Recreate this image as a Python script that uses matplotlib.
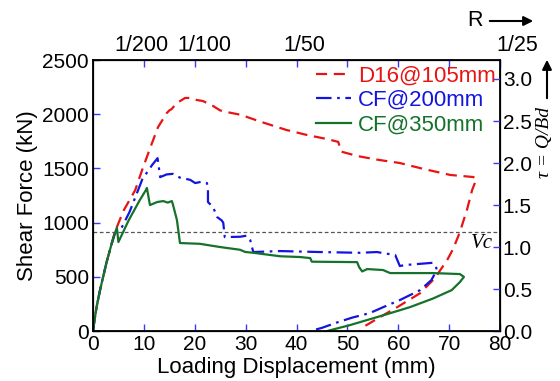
import numpy as np
import matplotlib.pyplot as plt
from matplotlib.transforms import ScaledTranslation

plt.rcParams['font.family'] = ['Liberation Sans', 'DejaVu Sans']

# D16@105mm
d_red = [0, 0.3, 0.7, 1.4, 2, 2.7, 3.7, 4.3, 6, 8.3, 9.8, 11.6, 12.8, 14.5, 15.1, 15.4,
         16.5, 18.1, 19.1, 20.4, 21.6, 23.6, 25, 26.3, 29, 33, 38, 42.1, 46, 48.2, 48.5,
         48.8, 52, 56, 60.3, 65, 70.2, 74.7, 75.3, 75.0, 74.5, 73.5, 72.1, 70.8, 69.6,
         67.2, 64.3, 59.8, 56.4, 53.1, 52.5]
f_red = [0, 100, 220, 380, 500, 640, 810, 913, 1110, 1300, 1504, 1734, 1882, 2011, 2039, 2045,
         2103, 2150, 2150, 2131, 2122, 2076, 2035, 2020, 1995, 1930, 1855, 1808, 1771, 1745, 1700,
         1655, 1614, 1580, 1550, 1495, 1440, 1421, 1410, 1360, 1300, 1120, 913, 760, 655,
         489, 350, 221, 129, 37, 0]

# CF@200mm
d_blue = [0, 0.3, 0.7, 1.4, 2, 2.7, 3.7, 4.3, 5.7, 7.2, 9.7, 11.6, 12.7, 13.2, 14.5, 15.7,
          17.1, 19.1, 20.1, 21.4, 22.4, 22.6, 22.6, 23.6, 24.4, 25.3, 25.6, 25.9, 28.9, 30.2,
          30.9, 31.5, 36.8, 44.6, 52.5, 55.8, 59.4, 60.3, 61.3, 66.8, 67.5, 67.3, 66.5, 64.3,
          60.3, 57, 54.4, 51, 48, 45, 42.7]
f_blue = [0, 100, 220, 380, 500, 640, 810, 900, 960, 1100, 1400, 1530, 1595, 1420, 1445, 1450,
          1415, 1395, 1365, 1378, 1365, 1300, 1190, 1144, 1052, 1020, 1000, 867, 870, 880,
          840, 729, 738, 729, 722, 729, 701, 600, 609, 630, 580, 540, 470, 378,
          286, 220, 166, 125, 80, 30, 0]

# CF@350mm
d_green = [0, 0.3, 0.7, 1.4, 2, 2.7, 3.7, 4.3, 4.7, 5.0, 7, 9.2, 10.4, 10.6, 11.2, 12.6, 13.8,
           14.7, 15.5, 15.7, 16.5, 17.1, 21, 25, 28.9, 29.9, 31.5, 36.8, 40.7, 42.7, 43, 51.9,
           52.3, 52.9, 53.9, 57, 58.4, 66.8, 72.1, 72.9, 72.1, 70.5, 66.8, 62.3, 57, 53,
           50.5, 48, 46]
f_green = [0, 100, 220, 380, 500, 640, 810, 900, 955, 821, 1020, 1208, 1300, 1320, 1162, 1190, 1199,
           1185, 1199, 1170, 1024, 812, 805, 775, 750, 730, 722, 690, 683, 673, 640, 636,
           590, 550, 572, 563, 535, 535, 526, 500, 452, 378, 300, 221, 145, 90,
           55, 25, 0]

vc = 913
tau_ratio = 775  # kN per unit of Q/Bd
r_ticks = [10, 20, 30, 40, 50, 60, 70, 80]
r_labels = ['1/200', '1/100', '', '1/50', '', '', '', '1/25']

tick_c = '#3a3aff'
red = '#e81414'
blue = '#1414e0'
green = '#15722a'

fig = plt.figure(figsize=(5.6, 3.81), dpi=100)
ax = fig.add_axes([0.166, 0.131, 0.727, 0.7115])

ax.plot(d_red, f_red, color=red, lw=1.6, dashes=(5, 3), label='D16@105mm')
ax.plot(d_blue, f_blue, color=blue, lw=1.6, dashes=(7, 2.5, 1.2, 2.5), label='CF@200mm')
ax.plot(d_green, f_green, color=green, lw=1.6, label='CF@350mm')
ax.axhline(vc, color='#555555', lw=0.9, dashes=(3, 2))
ax.text(78.6, 812, 'Vc', ha='right', va='center', fontsize=15,
        family='Liberation Serif', style='italic')

ax.set_xlim(0, 80)
ax.set_ylim(0, 2500)
ax.set_xticks(np.arange(0, 81, 10))
ax.set_yticks(np.arange(0, 2501, 500))
ax.tick_params(direction='in', length=5, width=1, color=tick_c, labelsize=15, pad=3)
ax.set_xlabel('Loading Displacement (mm)', fontsize=16, labelpad=2)
ax.set_ylabel('Shear Force (kN)', fontsize=16, labelpad=3)
for s in ax.spines.values():
    s.set_linewidth(1.3)

leg = ax.legend(loc='upper right', bbox_to_anchor=(1.0, 0.995), frameon=False, fontsize=16,
                handlelength=1.6, handletextpad=0.3, labelspacing=0.15, borderaxespad=0.1,
                borderpad=0.1)
for t, c in zip(leg.get_texts(), [red, blue, green]):
    t.set_color(c)

# right axis: tau = Q/Bd
ax2 = ax.twinx()
ax2.set_ylim(0, 2500 / tau_ratio)
ax2.set_yticks(np.arange(0, 3.01, 0.5))
ax2.set_yticklabels(['%.1f' % v for v in np.arange(0, 3.01, 0.5)])
ax2.tick_params(direction='in', length=5, width=1, color=tick_c, labelsize=15, pad=2)

# top axis: drift angle R
ax3 = ax.twiny()
ax3.set_xlim(0, 80)
ax3.set_xticks(r_ticks)
ax3.set_xticklabels(r_labels)
ax3.tick_params(direction='in', length=5, width=1, color=tick_c, labelsize=15.5, pad=3)
for lab, dx in zip(ax3.get_xticklabels(), [-2, 10, 0, 8, 0, 0, 0, 17]):
    lab.set_transform(lab.get_transform() + ScaledTranslation(dx / 100, 0, fig.dpi_scale_trans))

fig.text(475 / 560, 1 - 21 / 381, 'R', ha='center', va='center', fontsize=15.5)
ax.annotate('', xy=(536 / 560, 1 - 21 / 381), xytext=(487 / 560, 1 - 21 / 381),
            xycoords='figure fraction', textcoords='figure fraction',
            arrowprops=dict(arrowstyle='-|>', color='black', lw=1.5, mutation_scale=14))
fig.text(544 / 560, 1 - 142 / 381, 'τ = Q/Bd', rotation=90, ha='center', va='center',
         fontsize=14, family='Liberation Serif', style='italic')
ax.annotate('', xy=(547 / 560, 1 - 57 / 381), xytext=(547 / 560, 1 - 101 / 381),
            xycoords='figure fraction', textcoords='figure fraction',
            arrowprops=dict(arrowstyle='-|>', color='black', lw=1.5, mutation_scale=14))

fig.savefig('out.png', dpi=100)
